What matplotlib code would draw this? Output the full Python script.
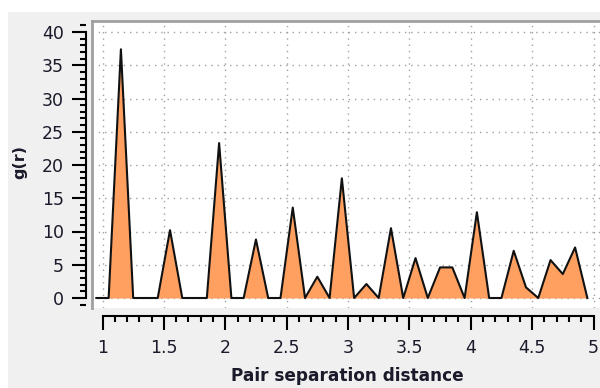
import matplotlib.pyplot as plt
import numpy as np
from matplotlib.patches import Rectangle
from matplotlib.ticker import MultipleLocator

plt.rcParams['font.family'] = ['DejaVu Sans']

# bin centres and g(r) values
r = [0.95, 1.05, 1.15, 1.25, 1.35, 1.45, 1.55, 1.65, 1.75, 1.85,
     1.95, 2.05, 2.15, 2.25, 2.35, 2.45, 2.55, 2.65, 2.75, 2.85,
     2.95, 3.05, 3.15, 3.25, 3.35, 3.45, 3.55, 3.65, 3.75, 3.85,
     3.95, 4.05, 4.15, 4.25, 4.35, 4.45, 4.55, 4.65, 4.75, 4.85, 4.95]
g = [0, 0, 37.4, 0, 0, 0, 10.2, 0, 0, 0,
     23.3, 0, 0, 8.8, 0, 0, 13.6, 0, 3.2, 0,
     18.0, 0, 2.1, 0, 10.5, 0, 6.0, 0, 4.6, 4.6,
     0, 12.9, 0, 0, 7.1, 1.6, 0, 5.7, 3.6, 7.6, 0]

xticks = [1, 1.5, 2, 2.5, 3, 3.5, 4, 4.5, 5]
yticks = [0, 5, 10, 15, 20, 25, 30, 35, 40]

W, H = 600, 388
fig = plt.figure(figsize=(6, 3.88), dpi=100)
fig.patch.set_facecolor('white')
fig.patches.append(Rectangle((8 / W, 0), 1, (H - 12) / H, transform=fig.transFigure,
                             facecolor='#F0F0F0', edgecolor='none', zorder=-10))

left, top, bottom = 92, 21, 308
ax = fig.add_axes([left / W, (H - bottom) / H, 1 - left / W, (bottom - top) / H])
ax.set_facecolor('white')

ax.fill_between(r, g, 0, color='#FFA060', lw=0)
ax.plot(r, g, color='#111111', lw=1.5)

# pixel mapping: x=1 -> 102.5px, 122.75 px per unit; y=0 -> 298px, 6.65 px per unit
ax.set_xlim(1 + (left - 102.5) / 122.75, 1 + (W - 102.5) / 122.75)
ax.set_ylim((298 - bottom) / 6.65, (298 - top) / 6.65)

ax.set_xticks(xticks)
ax.set_yticks(yticks)
ax.xaxis.set_minor_locator(MultipleLocator(0.1))
ax.yaxis.set_minor_locator(MultipleLocator(1))
ax.set_xticklabels([f'{v:g}' for v in xticks])
ax.grid(True, which='major', color='#A0A0A0', lw=1.0, ls=(0, (1, 3.5)))
ax.set_axisbelow(True)

ax.spines['right'].set_visible(False)
ax.spines['top'].set_color('#A0A0A0')
ax.spines['top'].set_linewidth(2)
ax.plot([0, 0], [0, 1], transform=ax.transAxes, color='#A0A0A0', lw=2, clip_on=False)

ax.spines['left'].set_position(('outward', 4.3))
ax.spines['left'].set_bounds(0, 40)
ax.spines['left'].set_linewidth(1.5)
ax.spines['bottom'].set_position(('outward', 5.8))
ax.spines['bottom'].set_bounds(1, 5)
ax.spines['bottom'].set_linewidth(1.5)

ax.tick_params(axis='both', which='major', direction='out', length=10, width=1.5,
               labelsize=12.5, labelcolor='#1a1a2a')
ax.tick_params(axis='both', which='minor', direction='out', length=4.5, width=1.5)
ax.tick_params(axis='y', which='major', pad=6)
ax.tick_params(axis='x', which='major', pad=6.5)

fig.text(347.7 / W, 1 - 376 / H, 'Pair separation distance', ha='center', va='center',
         fontsize=12.2, fontweight='bold', color='#1a1a2a')
fig.text(20 / W, 1 - 162 / H, 'g(r)', ha='center', va='center', rotation=90,
         fontsize=11.5, fontweight='bold', color='#1a1a2a')

fig.savefig('out.png', dpi=100)
